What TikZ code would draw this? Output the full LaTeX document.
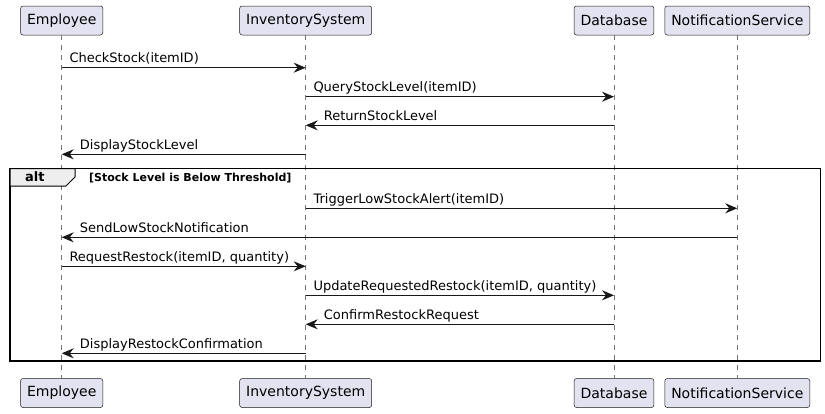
\documentclass[tikz,border=0pt]{standalone}
\usepackage{fontspec}
\setmainfont{DejaVu Sans}
\usetikzlibrary{arrows.meta}

\definecolor{partfill}{HTML}{E2E2F0}
\definecolor{umlline}{HTML}{181818}
\definecolor{tabfill}{HTML}{EEEEEE}

\begin{document}
\begin{tikzpicture}[x=1pt, y=-1pt,
  part/.style={draw=umlline, fill=partfill, line width=0.5pt, rounded corners=2.5pt,
    minimum height=29pt, inner xsep=6.5pt, font=\fontsize{14}{16}\selectfont},
  lifeline/.style={draw=black!55, line width=0.6pt, dash pattern=on 5pt off 5pt},
  msg/.style={draw=umlline, line width=1pt, -{Stealth[length=12pt,width=10pt,inset=4pt]}},
  lbl/.style={anchor=base west, inner sep=0pt, font=\fontsize{13}{15}\selectfont}]

\useasboundingbox (0,0) rectangle (825,413);

% participants, top and bottom, with the lifeline between
\foreach \name/\xx/\txt in {emp/61.7/Employee, inv/305.7/InventorySystem,
  db/614/Database, note/737.3/NotificationService}
  {
  \node[part] (top-\name) at (\xx,20.5) {\txt};
  \node[part] (bot-\name) at (\xx,393) {\txt};
  \draw[lifeline] (top-\name) -- (bot-\name);
  }

%% alt frame
\draw[line width=1.5pt] (10,168.5) rectangle (820.7,361);
\filldraw[fill=tabfill, line width=1pt]
  (10,168.5) -- (75,168.5) -- (75,177) -- (66,186) -- (10,186) -- cycle;
\node[lbl, font=\fontsize{13}{15}\selectfont\bfseries] (alt) at (25,181.5) {alt};
\node[lbl, font=\fontsize{11}{13}\selectfont\bfseries] (guard) at (89,181)
  {[Stock Level is Below Threshold]};

%% messages: number / source / target / height / left end / text offset / text
\foreach \n/\src/\dst/\y/\lft/\dx/\txt in {
  1/emp/inv/67.7/emp/7.6/CheckStock(itemID),
  2/inv/db/96.7/inv/7.6/QueryStockLevel(itemID),
  3/db/inv/125.3/inv/18/ReturnStockLevel,
  4/inv/emp/154.3/emp/18/DisplayStockLevel,
  5/inv/note/208.3/inv/7.6/TriggerLowStockAlert(itemID),
  6/note/emp/237.3/emp/18/SendLowStockNotification,
  7/emp/inv/266.3/emp/7.6/{RequestRestock(itemID, quantity)},
  8/inv/db/295.3/inv/7.6/{UpdateRequestedRestock(itemID, quantity)},
  9/db/inv/324.3/inv/18/ConfirmRestockRequest,
  10/inv/emp/353.3/emp/18/DisplayRestockConfirmation}
  {
  \coordinate (m\n-a) at (top-\src |- 0,\y);
  \coordinate (m\n-b) at (top-\dst |- 0,\y);
  \draw[msg] (m\n-a) -- (m\n-b);
  \path (top-\lft |- 0,\y) ++(\dx,-5) node[lbl] (lab\n) {\txt};
  }

\end{tikzpicture}
\end{document}
